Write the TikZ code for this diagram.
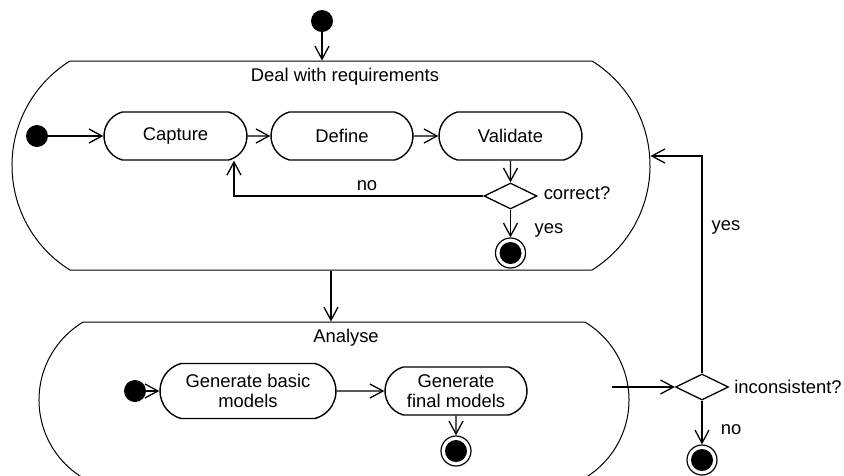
\documentclass[tikz,border=0pt]{standalone}
\usepackage{fontspec}
\setmainfont{Liberation Sans}
\usetikzlibrary{shapes.misc,shapes.geometric,arrows.meta,calc}
\begin{document}
\begin{tikzpicture}[x=1pt,y=-1pt,
  font=\fontsize{18.4}{20}\selectfont,
  act/.style={rounded rectangle, rounded rectangle arc length=150, draw, line width=1.4pt,
              minimum height=48pt, inner sep=0pt, align=center},
  super/.style={rounded rectangle, draw, line width=1pt, inner sep=0pt},
  arr/.style={line width=1.3pt, -{Straight Barb[length=13pt,width=14pt]}},
  init/.style={circle, fill=black, minimum size=22pt, inner sep=0pt},
  final/.style={circle, draw, line width=1.2pt, minimum size=30pt, inner sep=0pt,
                path picture={\fill[black] (path picture bounding box.center) circle[radius=11pt];}},
  dec/.style={diamond, draw, line width=1.3pt, minimum width=53pt, minimum height=26pt, inner sep=0pt},
  lbl/.style={inner sep=0pt}]
\useasboundingbox (0,0) rectangle (844,475);

% first super state
\node[init] (i0) at (322,21) {};
\node[super, minimum width=638pt, minimum height=209pt, rounded rectangle arc length=116] (s1) at (331,165.5) {};
\node[lbl] (t1) at (345,77) {Deal with requirements};
\node[init] (i1) at (37,136) {};
\node[act, minimum width=143pt] (cap) at (175.5,136) {Capture};
\node[act, minimum width=142pt] (def) at (342,136) {Define};
\node[act, minimum width=143pt] (val) at (510.5,136) {Validate};
\node[dec] (d1) at (510.5,196) {};
\node[lbl] (t2) at (577,193) {correct?};
\node[final] (f1) at (510.5,253) {};
\node[lbl] (t3) at (549,230) {yes};
\coordinate (nob) at (234,196);
\node[lbl] (t4) at (367,186) {no};

% second super state
\node[super, minimum width=590pt, minimum height=156pt, rounded rectangle arc length=118] (s2) at (334,400) {};
\node[lbl] (t5) at (346,338) {Analyse};
\node[init] (i2) at (135,391) {};
\node[act, minimum width=176pt, minimum height=55pt] (gb) at (248,391) {Generate basic\\models};
\node[act, minimum width=142pt] (gf) at (456,391) {Generate\\final models};
\node[final] (f2) at (456,451) {};

% outer decision
\node[dec] (d2) at (702,387) {};
\node[lbl] (t6) at (788,387) {inconsistent?};
\node[lbl] (t7) at (726,227) {yes};
\node[lbl] (t8) at (731,430) {no};
\node[final] (f3) at (702,460) {};
\coordinate (out2) at (612,387);
\coordinate (yesturn) at (702,156);

% connectors
\draw[arr] (i0) -- (i0 |- s1.north);
\draw[arr] (i1) -- (cap);
\draw[arr] (cap) -- (def);
\draw[arr] (def) -- (val);
\draw[arr] (val) -- (d1);
\draw[arr] (d1.west) -- (nob) -- (nob |- cap.south);
\draw[arr] (d1) -- (f1);
\draw[arr] (s1.south) -- (s1.south |- s2.north);
\draw[arr] (i2) -- (gb);
\draw[arr] (gb) -- (gf);
\draw[arr] (gf) -- (f2);
\draw[arr] (out2) -- (d2.west);
\draw[arr] (d2.north) -- (yesturn) -- (yesturn -| s1.east);
\draw[arr] (d2) -- (f3);
\end{tikzpicture}
\end{document}
